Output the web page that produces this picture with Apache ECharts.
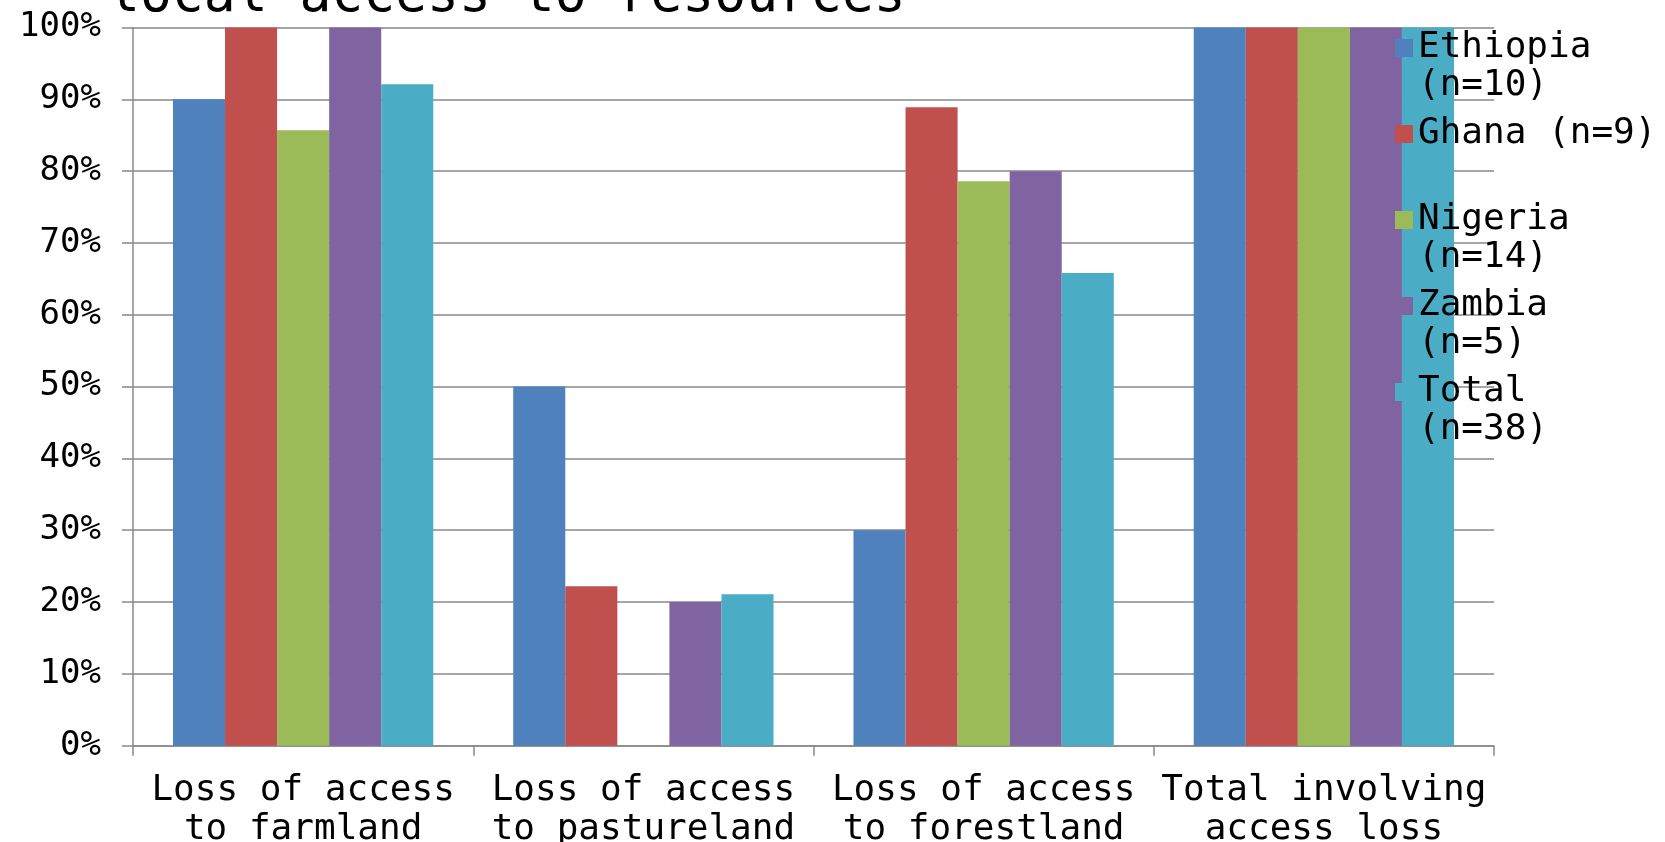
<!DOCTYPE html>
<html><head><meta charset="utf-8">
<script src="https://cdn.jsdelivr.net/npm/echarts@6/dist/echarts.min.js"></script>
<style>html,body{margin:0;padding:0;background:#fff}#c{width:1665px;height:842px}</style>
</head><body><div id="c"></div>
<script>
const categories = ['Loss of access\nto farmland', 'Loss of access\nto pastureland', 'Loss of access\nto forestland', 'Total involving\naccess loss'];
const seriesNames = ['Ethiopia (n=10)', 'Ghana (n=9)', 'Nigeria (n=14)', 'Zambia (n=5)', 'Total (n=38)'];
const legendLabels = ['\nEthiopia\n(n=10)', '\nGhana (n=9)\n', '\nNigeria\n(n=14)', '\nZambia\n(n=5)', '\nTotal\n(n=38)'];
const ethiopia = [90, 50, 30, 100];
const ghana = [100, 22.2, 88.9, 100];
const nigeria = [85.7, 0, 78.6, 100];
const zambia = [100, 20, 80, 100];
const total = [92.1, 21.1, 65.8, 100];
const colors = ['#4F81BD', '#C0504D', '#9BBB59', '#8064A2', '#4BACC6'];
const yTicks = [0, 10, 20, 30, 40, 50, 60, 70, 80, 90, 100];

const FONT = '"DejaVu Sans Mono", monospace';
const values = [ethiopia, ghana, nigeria, zambia, total];
const chart = echarts.init(document.getElementById('c'));
chart.setOption({
  animation: false,
  color: colors,
  title: {
    text: 'local access to resources',
    left: 103, top: -34,
    textStyle: { fontFamily: FONT, fontSize: 53, fontWeight: 'normal', color: '#000', lineHeight: 53 }
  },
  legend: {
    orient: 'vertical',
    left: 1390, top: -14,
    itemWidth: 18, itemHeight: 18,
    itemGap: -28,
    icon: 'rect',
    formatter: function (name) { return legendLabels[seriesNames.indexOf(name)]; },
    textStyle: { fontFamily: FONT, fontSize: 36, color: '#000', lineHeight: 38 },
    data: seriesNames
  },
  grid: { left: 133, right: 171, top: 27.5, bottom: 96.3, containLabel: false, outerBoundsMode: 'none' },
  xAxis: {
    type: 'category',
    data: categories,
    axisLine: { show: true, lineStyle: { color: '#898989', width: 1.5 } },
    axisTick: { show: true, length: 10, lineStyle: { color: '#898989', width: 1.5 } },
    axisLabel: { fontFamily: FONT, fontSize: 36, color: '#000', lineHeight: 39, margin: 25, interval: 0 }
  },
  yAxis: {
    type: 'value',
    min: 0, max: 100, interval: 10,
    axisLine: { show: true, lineStyle: { color: '#898989', width: 1.5 } },
    axisTick: { show: true, length: 11, lineStyle: { color: '#898989', width: 1.5 } },
    splitLine: { show: true, lineStyle: { color: '#898989', width: 1.5 } },
    axisLabel: {
      fontFamily: FONT, fontSize: 34, color: '#000', margin: 32,
      formatter: function (v) { return yTicks.indexOf(v) >= 0 ? v + '%' : ''; }
    }
  },
  series: seriesNames.map(function (n, i) {
    return {
      name: n, type: 'bar', data: values[i],
      barGap: '0%', barCategoryGap: '23.5%',
      itemStyle: { color: colors[i] }
    };
  })
});
</script></body></html>
